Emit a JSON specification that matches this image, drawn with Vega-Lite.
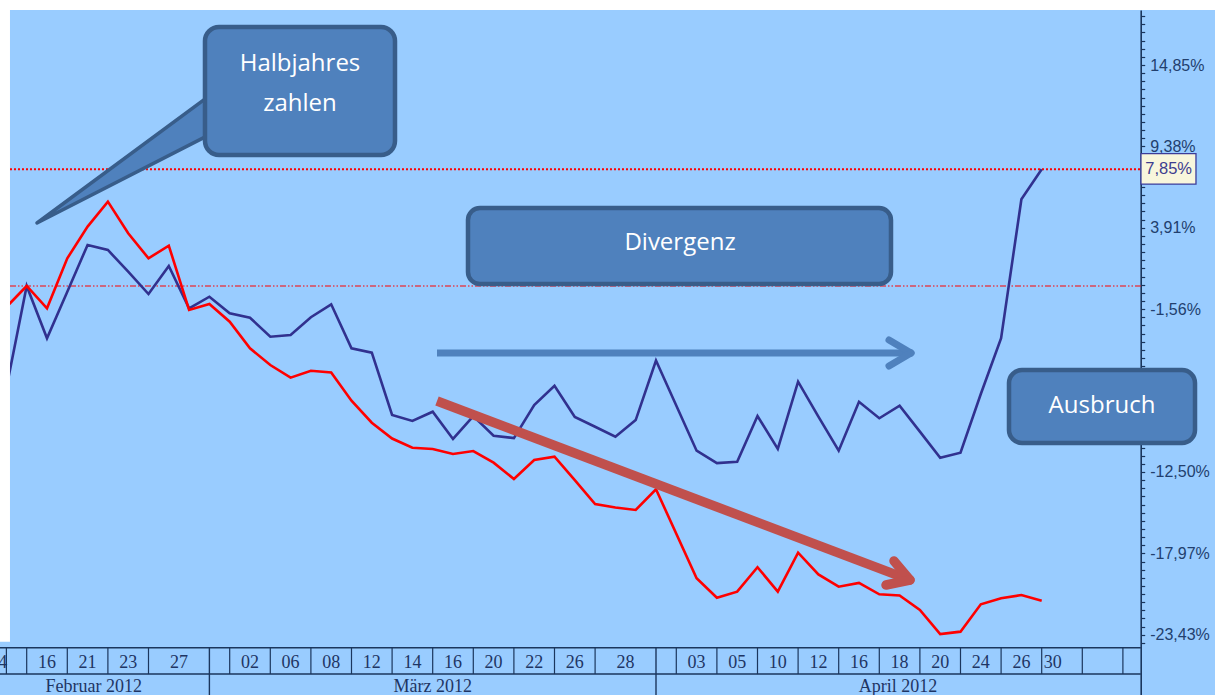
{
  "$schema": "https://vega.github.io/schema/vega-lite/v6.json",
  "width": 1215,
  "height": 685,
  "autosize": {"type": "none"},
  "padding": {"left": 0, "top": 10, "right": 0, "bottom": 0},
  "background": "#99ccff",
  "config": {"view": {"stroke": null}},
  "datasets": {
    "series": [
      {"k":0,"s":"blau","v":-6.85},{"k":1,"s":"blau","v":0},{"k":2,"s":"blau","v":-3.51},{"k":3,"s":"blau","v":-0.38},{"k":4,"s":"blau","v":2.76},{"k":5,"s":"blau","v":2.42},{"k":6,"s":"blau","v":0.96},{"k":7,"s":"blau","v":-0.54},{"k":8,"s":"blau","v":1.34},{"k":9,"s":"blau","v":-1.50},{"k":10,"s":"blau","v":-0.72},{"k":11,"s":"blau","v":-1.83},{"k":12,"s":"blau","v":-2.13},{"k":13,"s":"blau","v":-3.41},{"k":14,"s":"blau","v":-3.29},{"k":15,"s":"blau","v":-2.10},{"k":16,"s":"blau","v":-1.23},{"k":17,"s":"blau","v":-4.19},{"k":18,"s":"blau","v":-4.48},{"k":19,"s":"blau","v":-8.67},{"k":20,"s":"blau","v":-9.07},{"k":21,"s":"blau","v":-8.45},{"k":22,"s":"blau","v":-10.28},{"k":23,"s":"blau","v":-8.74},{"k":24,"s":"blau","v":-10.06},{"k":25,"s":"blau","v":-10.22},{"k":26,"s":"blau","v":-8.00},{"k":27,"s":"blau","v":-6.70},{"k":28,"s":"blau","v":-8.80},{"k":29,"s":"blau","v":-9.46},{"k":30,"s":"blau","v":-10.13},{"k":31,"s":"blau","v":-9.01},{"k":32,"s":"blau","v":-5.01},{"k":34,"s":"blau","v":-11.07},{"k":35,"s":"blau","v":-11.90},{"k":36,"s":"blau","v":-11.81},{"k":37,"s":"blau","v":-8.74},{"k":38,"s":"blau","v":-10.95},{"k":39,"s":"blau","v":-6.43},{"k":40,"s":"blau","v":-8.78},{"k":41,"s":"blau","v":-11.07},{"k":42,"s":"blau","v":-7.78},{"k":43,"s":"blau","v":-8.89},{"k":44,"s":"blau","v":-8.04},{"k":45,"s":"blau","v":-9.79},{"k":46,"s":"blau","v":-11.54},{"k":47,"s":"blau","v":-11.20},{"k":48,"s":"blau","v":-7.26},{"k":49,"s":"blau","v":-3.51},{"k":50,"s":"blau","v":5.83},{"k":51,"s":"blau","v":7.85},
      {"k":0,"s":"rot","v":-1.41},{"k":1,"s":"rot","v":0},{"k":2,"s":"rot","v":-1.50},{"k":3,"s":"rot","v":1.86},{"k":4,"s":"rot","v":3.99},{"k":5,"s":"rot","v":5.67},{"k":6,"s":"rot","v":3.54},{"k":7,"s":"rot","v":1.86},{"k":8,"s":"rot","v":2.71},{"k":9,"s":"rot","v":-1.61},{"k":10,"s":"rot","v":-1.21},{"k":11,"s":"rot","v":-2.40},{"k":12,"s":"rot","v":-4.19},{"k":13,"s":"rot","v":-5.31},{"k":14,"s":"rot","v":-6.16},{"k":15,"s":"rot","v":-5.70},{"k":16,"s":"rot","v":-5.81},{"k":17,"s":"rot","v":-7.71},{"k":18,"s":"rot","v":-9.19},{"k":19,"s":"rot","v":-10.25},{"k":20,"s":"rot","v":-10.87},{"k":21,"s":"rot","v":-10.95},{"k":22,"s":"rot","v":-11.29},{"k":23,"s":"rot","v":-11.09},{"k":24,"s":"rot","v":-11.87},{"k":25,"s":"rot","v":-12.97},{"k":26,"s":"rot","v":-11.69},{"k":27,"s":"rot","v":-11.47},{"k":28,"s":"rot","v":-13.04},{"k":29,"s":"rot","v":-14.65},{"k":30,"s":"rot","v":-14.89},{"k":31,"s":"rot","v":-15.05},{"k":32,"s":"rot","v":-13.66},{"k":34,"s":"rot","v":-19.64},{"k":35,"s":"rot","v":-20.95},{"k":36,"s":"rot","v":-20.54},{"k":37,"s":"rot","v":-18.90},{"k":38,"s":"rot","v":-20.54},{"k":39,"s":"rot","v":-17.92},{"k":40,"s":"rot","v":-19.38},{"k":41,"s":"rot","v":-20.21},{"k":42,"s":"rot","v":-19.95},{"k":43,"s":"rot","v":-20.72},{"k":44,"s":"rot","v":-20.80},{"k":45,"s":"rot","v":-21.77},{"k":46,"s":"rot","v":-23.39},{"k":47,"s":"rot","v":-23.23},{"k":48,"s":"rot","v":-21.39},{"k":49,"s":"rot","v":-20.99},{"k":50,"s":"rot","v":-20.77},{"k":51,"s":"rot","v":-21.15}
    ],
    "days": [
      {"k":-0.4,"t":"14"},{"k":2,"t":"16"},{"k":4,"t":"21"},{"k":6,"t":"23"},{"k":8.5,"t":"27"},{"k":12,"t":"02"},{"k":14,"t":"06"},{"k":16,"t":"08"},{"k":18,"t":"12"},{"k":20,"t":"14"},{"k":22,"t":"16"},{"k":24,"t":"20"},{"k":26,"t":"22"},{"k":28,"t":"26"},{"k":30.5,"t":"28"},{"k":34,"t":"03"},{"k":36,"t":"05"},{"k":38,"t":"10"},{"k":40,"t":"12"},{"k":42,"t":"16"},{"k":44,"t":"18"},{"k":46,"t":"20"},{"k":48,"t":"24"},{"k":50,"t":"26"},{"k":51.55,"t":"30"}
    ],
    "seps": [{"k":0},{"k":1},{"k":3},{"k":5},{"k":7},{"k":11},{"k":13},{"k":15},{"k":17},{"k":19},{"k":21},{"k":23},{"k":25},{"k":27},{"k":29},{"k":33},{"k":35},{"k":37},{"k":39},{"k":41},{"k":43},{"k":45},{"k":47},{"k":49},{"k":51},{"k":53},{"k":55}],
    "monthseps": [{"k":10},{"k":32}],
    "months": [{"k":4.3,"t":"Februar 2012"},{"k":21.0,"t":"März 2012"},{"k":43.92,"t":"April 2012"}]
  },
  "encoding": {
    "x": {"type": "quantitative", "scale": {"domain": [-0.315, 59.537], "nice": false, "zero": false}, "axis": null},
    "y": {
      "type": "quantitative",
      "scale": {"domain": [-27.487, 18.548], "nice": false, "zero": false},
      "axis": {
        "orient": "right", "offset": -74.3, "title": null, "grid": false, "zindex": 0,
        "values": [18.13,17.58,17.04,16.49,15.94,15.40,14.85,14.30,13.76,13.21,12.66,12.12,11.57,11.02,10.48,9.93,9.38,8.83,8.29,7.74,7.20,6.65,6.10,5.55,5.01,4.46,3.91,3.36,2.82,2.27,1.72,1.18,0.63,0.09,-0.46,-1.01,-1.56,-2.11,-2.65,-3.20,-3.75,-4.29,-4.84,-5.39,-5.93,-6.48,-7.03,-7.58,-8.12,-8.67,-9.22,-9.76,-10.31,-10.86,-11.40,-11.95,-12.5,-13.05,-13.59,-14.14,-14.69,-15.23,-15.78,-16.33,-16.87,-17.42,-17.97,-18.52,-19.06,-19.61,-20.16,-20.70,-21.25,-21.80,-22.34,-22.89,-23.43,-23.98],
        "labelExpr": "indexof([14.85,9.38,3.91,-1.56,-12.5,-17.97,-23.43], datum.value) >= 0 ? replace(replace(format(datum.value, '.2f'), '.', ','), '\u2212', '-') + '%' : ''",
        "tickSize": 4,
        "labelPadding": 5,
        "labelFont": "Liberation Sans", "labelFontSize": 16, "labelColor": "#223f6e",
        "labelOverlap": false, "labelFlush": false, "labelBound": false,
        "domainColor": "#1b365d", "domainWidth": 1.6,
        "tickColor": "#1b365d", "tickWidth": 1.2
      }
    }
  },
  "layer": [
    {
      "data": {"values": [{}]},
      "mark": {"type": "rule", "color": "#ff0000", "strokeWidth": 1.2, "strokeDash": [6, 2, 1.5, 2, 1.5, 2]},
      "encoding": {
        "x": {"datum": 0.177},
        "x2": {"datum": 55.88},
        "y": {"datum": 0}
      }
    },
    {
      "data": {"values": [{}]},
      "mark": {"type": "rule", "color": "#ff0000", "strokeWidth": 2, "strokeDash": [2, 2]},
      "encoding": {
        "x": {"datum": 0.177},
        "x2": {"datum": 55.88},
        "y": {"datum": 7.85}
      }
    },
    {
      "data": {"name": "series"},
      "mark": {"type": "line", "strokeWidth": 2.6, "strokeJoin": "miter"},
      "encoding": {
        "x": {"field": "k"},
        "y": {"field": "v"},
        "color": {"field": "s", "type": "nominal", "scale": {"domain": ["rot", "blau"], "range": ["#ff0000", "#31318f"]}, "legend": null}
      }
    },
    {
      "data": {"values": [{}]},
      "mark": {"type": "rect", "fill": "white"},
      "encoding": {
        "x": {"datum": -0.5},
        "x2": {"datum": 0.177},
        "y": {"datum": 19.5},
        "y2": {"datum": -23.9}
      }
    },
    {
      "data": {"values": [{}]},
      "mark": {"type": "rect", "fill": "white"},
      "encoding": {
        "x": {"datum": -0.5},
        "x2": {"datum": 60},
        "y": {"datum": 19.5},
        "y2": {"datum": 18.55}
      }
    },
    {
      "data": {"values": [{"r": -24.31}, {"r": -26.08}]},
      "mark": {"type": "rule", "color": "#1b365d", "strokeWidth": 1.6},
      "encoding": {
        "x": {"datum": -0.5},
        "x2": {"datum": 55.88},
        "y": {"field": "r"}
      }
    },
    {
      "data": {"name": "seps"},
      "mark": {"type": "rule", "color": "#1b365d", "strokeWidth": 1.2},
      "encoding": {
        "x": {"field": "k"},
        "y": {"datum": -24.31},
        "y2": {"datum": -26.08}
      }
    },
    {
      "data": {"name": "monthseps"},
      "mark": {"type": "rule", "color": "#1b365d", "strokeWidth": 1.4},
      "encoding": {
        "x": {"field": "k"},
        "y": {"datum": -24.31},
        "y2": {"datum": -27.6}
      }
    },
    {
      "data": {"name": "days"},
      "mark": {"type": "text", "font": "Liberation Serif", "fontSize": 18, "color": "#1e3564", "align": "center", "baseline": "alphabetic"},
      "encoding": {
        "x": {"field": "k"},
        "y": {"datum": -25.69},
        "text": {"field": "t"}
      }
    },
    {
      "data": {"name": "months"},
      "mark": {"type": "text", "font": "Liberation Serif", "fontSize": 18, "color": "#1e3564", "align": "center", "baseline": "alphabetic"},
      "encoding": {
        "x": {"field": "k"},
        "y": {"datum": -27.3},
        "text": {"field": "t"}
      }
    },
    {
      "data": {"values": [{"wx": 1.507, "wy": 4.234, "wy2": 4.234}, {"wx": 10.276, "wy": 13.065, "wy2": 10.356}]},
      "mark": {"type": "area", "fill": "#4f81bd", "stroke": "#385d8a", "strokeWidth": 3.5, "strokeJoin": "round", "opacity": 1},
      "encoding": {
        "x": {"field": "wx"},
        "y": {"field": "wy"},
        "y2": {"field": "wy2"}
      }
    },
    {
      "data": {"values": [{}]},
      "mark": {"type": "rect", "fill": "#4f81bd", "stroke": "#385d8a", "strokeWidth": 4.5, "cornerRadius": 14},
      "encoding": {
        "x": {"datum": 9.783},
        "x2": {"datum": 19.143},
        "y": {"datum": 17.406},
        "y2": {"datum": 8.804}
      }
    },
    {
      "data": {"values": [{}]},
      "mark": {"type": "rect", "fill": "#4f81bd", "stroke": "#385d8a", "strokeWidth": 4.5, "cornerRadius": 12},
      "encoding": {
        "x": {"datum": 22.739},
        "x2": {"datum": 43.576},
        "y": {"datum": 5.242},
        "y2": {"datum": 0.134}
      }
    },
    {
      "data": {"values": [{}]},
      "mark": {"type": "rect", "fill": "#4f81bd", "stroke": "#385d8a", "strokeWidth": 4.5, "cornerRadius": 13},
      "encoding": {
        "x": {"datum": 49.389},
        "x2": {"datum": 58.552},
        "y": {"datum": -5.645},
        "y2": {"datum": -10.551}
      }
    },
    {
      "data": {"values": [{}]},
      "mark": {"type": "text", "text": "Halbjahres", "font": "Open Sans", "fontSize": 24, "color": "white", "align": "center", "baseline": "middle"},
      "encoding": {
        "x": {"datum": 14.463},
        "y": {"datum": 14.919}
      }
    },
    {
      "data": {"values": [{}]},
      "mark": {"type": "text", "text": "zahlen", "font": "Open Sans", "fontSize": 24, "color": "white", "align": "center", "baseline": "middle"},
      "encoding": {
        "x": {"datum": 14.463},
        "y": {"datum": 12.231}
      }
    },
    {
      "data": {"values": [{}]},
      "mark": {"type": "text", "text": "Divergenz", "font": "Open Sans", "fontSize": 24, "color": "white", "align": "center", "baseline": "middle"},
      "encoding": {
        "x": {"datum": 33.183},
        "y": {"datum": 2.89}
      }
    },
    {
      "data": {"values": [{}]},
      "mark": {"type": "text", "text": "Ausbruch", "font": "Open Sans", "fontSize": 24, "color": "white", "align": "center", "baseline": "middle"},
      "encoding": {
        "x": {"datum": 53.97},
        "y": {"datum": -8.065}
      }
    },
    {
      "data": {"values": [{}]},
      "mark": {"type": "rule", "color": "#4f81bd", "strokeWidth": 7, "strokeCap": "butt"},
      "encoding": {
        "x": {"datum": 21.212},
        "x2": {"datum": 44.4},
        "y": {"datum": -4.503},
        "y2": {"datum": -4.503}
      }
    },
    {
      "data": {"values": [{}]},
      "mark": {"type": "rule", "color": "#4f81bd", "strokeWidth": 7, "strokeCap": "round"},
      "encoding": {
        "x": {"datum": 43.478},
        "x2": {"datum": 44.562},
        "y": {"datum": -3.629},
        "y2": {"datum": -4.503}
      }
    },
    {
      "data": {"values": [{}]},
      "mark": {"type": "rule", "color": "#4f81bd", "strokeWidth": 7, "strokeCap": "round"},
      "encoding": {
        "x": {"datum": 43.478},
        "x2": {"datum": 44.562},
        "y": {"datum": -5.376},
        "y2": {"datum": -4.503}
      }
    },
    {
      "data": {"values": [{}]},
      "mark": {"type": "rule", "color": "#c0504d", "strokeWidth": 9.5, "strokeCap": "butt"},
      "encoding": {
        "x": {"datum": 21.212},
        "x2": {"datum": 44.3},
        "y": {"datum": -7.728},
        "y2": {"datum": -19.65}
      }
    },
    {
      "data": {"values": [{}]},
      "mark": {"type": "rule", "color": "#c0504d", "strokeWidth": 9.5, "strokeCap": "round"},
      "encoding": {
        "x": {"datum": 43.724},
        "x2": {"datum": 44.512},
        "y": {"datum": -18.481},
        "y2": {"datum": -19.758}
      }
    },
    {
      "data": {"values": [{}]},
      "mark": {"type": "rule", "color": "#c0504d", "strokeWidth": 9.5, "strokeCap": "round"},
      "encoding": {
        "x": {"datum": 43.33},
        "x2": {"datum": 44.512},
        "y": {"datum": -20.094},
        "y2": {"datum": -19.758}
      }
    },
    {
      "data": {"values": [{}]},
      "mark": {"type": "rect", "fill": "#f8f6dc", "stroke": "#3c3c99", "strokeWidth": 1.3},
      "encoding": {
        "x": {"datum": 55.89},
        "x2": {"datum": 58.6},
        "y": {"datum": 8.9},
        "y2": {"datum": 6.85}
      }
    },
    {
      "data": {"values": [{}]},
      "mark": {"type": "text", "text": "7,85%", "font": "Liberation Sans", "fontSize": 16.5, "color": "#3d3d8f", "align": "left", "baseline": "middle"},
      "encoding": {
        "x": {"datum": 56.1},
        "y": {"datum": 7.85}
      }
    }
  ]
}
